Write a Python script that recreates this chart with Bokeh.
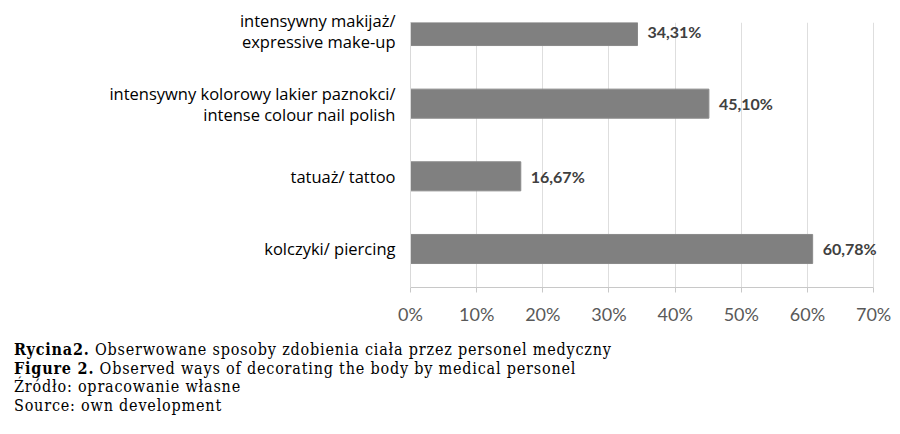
from bokeh.plotting import figure
from bokeh.models import Range1d, FixedTicker, ColumnDataSource, Div, LabelSet
from bokeh.layouts import column
from bokeh.embed import file_html
from bokeh.resources import INLINE
from bokeh.core.properties import value

# categories listed bottom -> top
categories = [
    "kolczyki/ piercing",
    "tatuaż/ tattoo",
    "intensywny kolorowy lakier paznokci/\nintense colour nail polish",
    "intensywny makijaż/\nexpressive make-up",
]
values = [60.78, 16.67, 45.10, 34.31]
x_ticks = [0, 10, 20, 30, 40, 50, 60, 70]
x_tick_labels = ["0%", "10%", "20%", "30%", "40%", "50%", "60%", "70%"]
caption_lines = [
    ("Rycina2.", " Obserwowane sposoby zdobienia ciała przez personel medyczny"),
    ("Figure 2.", " Observed ways of decorating the body by medical personel"),
    ("", "Źródło: opracowanie własne"),
    ("", "Source: own development"),
]

positions = list(range(len(categories)))
value_text = [f"{v:.2f}".replace(".", ",") + "%" for v in values]

src = ColumnDataSource(dict(pos=positions, val=values, lab=value_text))

# x range runs a little past 70% so the last value label is not clipped;
# the axis itself is bounded to 0..70
p = figure(
    width=893, height=338,
    x_range=Range1d(0, 73), y_range=Range1d(-0.53, 3.117),
    output_backend="svg", toolbar_location=None,
    min_border_left=410, min_border_right=0, min_border_top=22, min_border_bottom=51,
)
p.outline_line_color = None
p.background_fill_color = "white"

p.hbar(y="pos", right="val", left=0, height=0.4, source=src,
       fill_color="#808080", line_color="#8a8a8a", line_width=1)

labels = LabelSet(x="val", y="pos", text="lab", source=src, x_offset=10,
                  text_baseline="middle", text_align="left",
                  text_font=value("Lato"), text_font_style="bold",
                  text_font_size="16px", text_color="#404040")
p.add_layout(labels)

# x axis
p.xaxis.bounds = (0, 70)
p.xaxis.ticker = FixedTicker(ticks=x_ticks)
p.xaxis.major_label_overrides = {t: l for t, l in zip(x_ticks, x_tick_labels)}
p.xaxis.axis_line_color = "#c8c8c8"
p.xaxis.major_tick_line_color = "#c8c8c8"
p.xaxis.major_tick_out = 5
p.xaxis.major_tick_in = 0
p.xaxis.minor_tick_line_color = None
p.xaxis.major_label_standoff = 10
p.xaxis.major_label_text_font = "Lato"
p.xaxis.major_label_text_font_size = "18px"
p.xaxis.major_label_text_color = "#595959"

# y axis
p.yaxis.ticker = FixedTicker(ticks=positions)
p.yaxis.major_label_overrides = {i: c for i, c in zip(positions, categories)}
p.yaxis.axis_line_color = "#d9d9d9"
p.yaxis.major_tick_line_color = None
p.yaxis.minor_tick_line_color = None
p.yaxis.major_tick_out = 0
p.yaxis.major_tick_in = 0
p.yaxis.major_label_standoff = 15
p.yaxis.major_label_text_font = "Open Sans"
p.yaxis.major_label_text_font_size = "16.5px"
p.yaxis.major_label_text_line_height = 0.9
p.yaxis.major_label_text_color = "#000000"

p.xgrid.grid_line_color = "#dedede"
p.xgrid.ticker = FixedTicker(ticks=x_ticks)
p.ygrid.grid_line_color = None

html_lines = []
for b, t in caption_lines:
    html_lines.append((f"<b>{b}</b>" if b else "") + t)
cap = Div(
    text="<br>".join(html_lines),
    width=880, height=80, margin=(3, 0, 0, 14),
    styles={"font-family": "'DejaVu Serif Condensed', 'DejaVu Serif', serif",
            "font-stretch": "condensed", "font-size": "16px",
            "letter-spacing": "0.8px",
            "line-height": "18.6px", "color": "#000000"},
)

layout = column(p, cap, spacing=0)
open("out.html", "w").write(file_html(layout, INLINE))
